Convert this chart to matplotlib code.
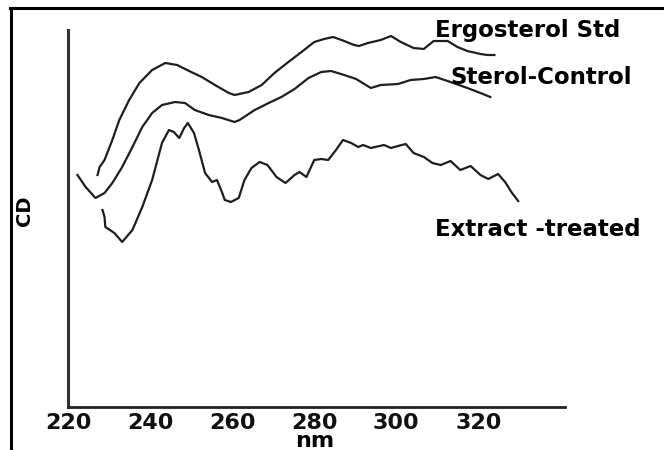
import matplotlib
matplotlib.use("Agg")
import matplotlib.pyplot as plt
from matplotlib.lines import Line2D

# ---- data (CD in arbitrary units) ----
ergo_nm = [227.2, 227.7, 228.4, 228.9, 230.8, 232.5, 234.9, 237.4, 240.5, 243.7,
           246.6, 249.5, 252.6, 255.8, 259.2, 260.6, 264.0, 267.2, 270.3, 273.7,
           276.9, 280.0, 282.4, 284.6, 287.3, 289.7, 290.9, 293.1, 296.2, 298.7,
           301.1, 304.2, 306.7, 309.1, 312.5, 314.9, 317.3, 320.5, 322.2, 323.9]
ergo_cd = [23.2, 24.0, 24.4, 24.7, 26.7, 28.7, 30.7, 32.4, 33.7, 34.4,
           34.2, 33.6, 33.0, 32.2, 31.4, 31.2, 31.5, 32.2, 33.4, 34.5,
           35.5, 36.5, 36.8, 37.0, 36.6, 36.2, 36.1, 36.4, 36.7, 37.1,
           36.5, 35.9, 35.8, 36.6, 36.6, 36.0, 35.6, 35.3, 35.2, 35.2]

ctrl_nm = [222.3, 224.3, 226.7, 228.9, 230.8, 233.2, 235.7, 238.1, 240.5, 242.9,
           246.1, 248.5, 250.9, 254.3, 257.5, 260.6, 261.8, 265.5, 268.9, 272.0,
           275.2, 278.6, 281.7, 284.1, 287.3, 290.2, 293.8, 296.2, 300.4, 303.5,
           306.7, 309.6, 313.2, 317.3, 320.5, 322.9]
ctrl_cd = [23.2, 22.0, 20.9, 21.4, 22.4, 24.0, 26.0, 28.0, 29.4, 30.2,
           30.5, 30.4, 29.7, 29.2, 28.9, 28.5, 28.7, 29.7, 30.4, 31.0,
           31.8, 32.9, 33.5, 33.6, 33.2, 32.8, 31.9, 32.2, 32.3, 32.7,
           32.8, 33.0, 32.5, 31.9, 31.4, 31.0]

extr_nm = [228.4, 228.9, 229.1, 231.3, 233.2, 235.7, 238.1, 240.5, 242.9, 244.6,
           245.8, 247.1, 248.3, 249.2, 250.7, 251.9, 253.4, 255.1, 256.3, 257.5,
           258.2, 259.7, 261.6, 263.0, 264.7, 266.7, 268.6, 270.8, 273.0, 275.2,
           276.4, 278.1, 280.0, 281.7, 283.4, 285.3, 287.0, 289.0, 290.7, 291.9,
           293.8, 297.0, 298.7, 300.4, 302.3, 304.2, 306.7, 308.8, 310.8, 313.2,
           315.6, 318.1, 320.5, 322.4, 324.8, 326.5, 328.2, 329.7]
extr_cd = [19.7, 19.0, 18.0, 17.4, 16.5, 17.7, 20.0, 22.7, 26.4, 27.7,
           27.5, 26.9, 27.9, 28.4, 27.4, 25.7, 23.4, 22.5, 22.7, 21.5,
           20.7, 20.5, 20.9, 22.7, 23.9, 24.5, 24.2, 23.0, 22.4, 23.2,
           23.5, 23.0, 24.7, 24.8, 24.7, 25.7, 26.7, 26.4, 26.0, 26.2,
           25.9, 26.2, 25.9, 26.1, 26.3, 25.4, 25.0, 24.4, 24.2, 24.6,
           23.7, 24.1, 23.2, 22.8, 23.3, 22.5, 21.4, 20.6]

series_labels = ["Ergosterol Std", "Sterol-Control", "Extract -treated"]
x_ticks = [220, 240, 260, 280, 300, 320]
x_label = "nm"
y_label = "CD"

# ---- figure ----
W, H = 665, 450
fig = plt.figure(figsize=(W / 100, H / 100), dpi=100)
fig.patch.set_facecolor("white")

ax = fig.add_axes([68 / W, (H - 407) / H, 497 / W, 377 / H])
ax.set_xlim(220.6, 341.1)
ax.set_ylim(0, 37.7)

lc = "#1e1e1e"
for xs, ys in [(ergo_nm, ergo_cd), (ctrl_nm, ctrl_cd), (extr_nm, extr_cd)]:
    ax.plot(xs, ys, color=lc, lw=1.6, solid_joinstyle="round")

for s in ["top", "right"]:
    ax.spines[s].set_visible(False)
ax.spines["left"].set_linewidth(2.2)
ax.spines["left"].set_color("#333333")
ax.spines["bottom"].set_linewidth(2.0)
ax.spines["bottom"].set_color("#222222")

bold = dict(family="DejaVu Sans", weight="bold")
ax.set_xticks(x_ticks)
ax.set_xticklabels([str(t) for t in x_ticks], fontsize=16, **bold)
ax.tick_params(axis="x", length=0, pad=4, colors="#111111")
ax.set_yticks([])

ax.set_xlabel(x_label, fontsize=16, **bold)
ax.xaxis.label.set_va("baseline")
ax.xaxis.set_label_coords((315 - 68) / 497, (407 - 447) / 377)
ax.set_ylabel(y_label, fontsize=14, **bold)
ax.yaxis.set_label_coords((34 - 68) / 497, (407 - 211) / 377)

# series annotations
fig.text(435 / W, 1 - 30 / H, series_labels[0], fontsize=16.5, va="center", ha="left", **bold)
fig.text(450 / W, 1 - 77 / H, series_labels[1], fontsize=16.5, va="center", ha="left", **bold)
fig.text(435 / W, 1 - 230 / H, series_labels[2], fontsize=16.5, va="center", ha="left", **bold)

# outer frame (top and left edges)
fig.add_artist(Line2D([10 / W, 662 / W], [1 - 7.5 / H, 1 - 7.5 / H], transform=fig.transFigure,
                      color="black", lw=2.2))
fig.add_artist(Line2D([11 / W, 11 / W], [0, 1 - 7.5 / H], transform=fig.transFigure,
                      color="black", lw=2.2))

fig.savefig("out.png", dpi=100, facecolor="white")
